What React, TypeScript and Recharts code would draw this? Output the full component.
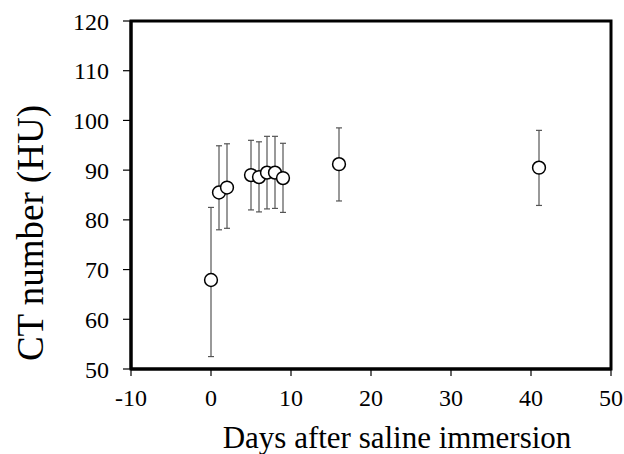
import React from 'react';
import {
  ScatterChart,
  Scatter,
  XAxis,
  YAxis,
  ErrorBar,
  ReferenceArea,
} from 'recharts';

// Values
const days = [0, 1, 2, 5, 6, 7, 8, 9, 16, 41];
const ctNumber = [67.9, 85.5, 86.5, 89.0, 88.6, 89.5, 89.5, 88.4, 91.2, 90.5];
const errLow = [15.4, 7.5, 8.2, 7.0, 7.0, 7.3, 7.2, 6.9, 7.4, 7.6];
const errHigh = [14.6, 9.4, 8.8, 7.0, 7.1, 7.3, 7.3, 7.0, 7.3, 7.5];

const xTicks = [-10, 0, 10, 20, 30, 40, 50];
const yTicks = [50, 60, 70, 80, 90, 100, 110, 120];

const data = days.map((d, i) => ({
  day: d,
  ct: ctNumber[i],
  err: [errLow[i], errHigh[i]],
}));

const FONT = '"Liberation Serif", "Times New Roman", serif';

const XTick = (props: any) => {
  const { x, y, payload } = props;
  return (
    <text x={x} y={y} dy="0.71em" textAnchor="middle" fontFamily={FONT} style={{ fontFamily: FONT }} fontSize={24} fill="#000">
      {payload.value}
    </text>
  );
};

const YTick = (props: any) => {
  const { x, y, payload } = props;
  return (
    <text x={x} y={y} dy="0.355em" textAnchor="end" fontFamily={FONT} style={{ fontFamily: FONT }} fontSize={24} fill="#000">
      {payload.value}
    </text>
  );
};

const XTitle = (props: any) => {
  const vb = props.viewBox;
  return (
    <text
      x={vb.x + vb.width / 2 + 26}
      y={vb.y + 79}
      textAnchor="middle"
      style={{ fontFamily: FONT }}
      fontSize={31}
      fill="#000"
    >
      Days after saline immersion
    </text>
  );
};

const YTitle = (props: any) => {
  const vb = props.viewBox;
  const cx = 43;
  const cy = vb.y + vb.height / 2 + 38;
  return (
    <text
      x={cx}
      y={cy}
      transform={`rotate(-90 ${cx} ${cy})`}
      textAnchor="middle"
      style={{ fontFamily: FONT }}
      fontSize={37}
      fill="#000"
    >
      CT number (HU)
    </text>
  );
};

// open circle marker, centred where the scatter scale puts the point
const Marker = (props: any) => (
  <circle cx={props.cx} cy={props.cy} r={6.4} fill="#fff" stroke="#000" strokeWidth={1.5} />
);

export default function App() {
  return (
    <div
      style={{
        position: 'absolute',
        left: 0,
        top: 0,
        width: 624,
        height: 454,
        background: '#fff',
      }}
    >
      <ScatterChart width={624} height={454} margin={{ top: 21, right: 13, bottom: 0, left: 0 }}>
        <XAxis
          type="number"
          dataKey="day"
          domain={[-10, 50]}
          ticks={xTicks}
          interval={0}
          height={85}
          tick={XTick}
          tickSize={7}
          tickMargin={13}
          axisLine={{ stroke: '#000', strokeWidth: 3 }}
          tickLine={{ stroke: '#000', strokeWidth: 1.2 }}
          label={{ content: XTitle }}
        />
        <YAxis
          type="number"
          dataKey="ct"
          domain={[50, 120]}
          ticks={yTicks}
          interval={0}
          width={131}
          tick={YTick}
          tickSize={8}
          tickMargin={14}
          axisLine={{ stroke: '#000', strokeWidth: 3 }}
          tickLine={{ stroke: '#000', strokeWidth: 1.2 }}
          label={{ content: YTitle }}
        />
        <ReferenceArea
          x1={-10}
          x2={50}
          y1={50}
          y2={120}
          fill="none"
          stroke="#000"
          strokeWidth={3}
          fillOpacity={0}
        />
        <Scatter data={data} shape={Marker} isAnimationActive={false}>
          <ErrorBar
            dataKey="err"
            direction="y"
            width={3}
            stroke="#555"
            strokeWidth={1.2}
            isAnimationActive={false}
          />
        </Scatter>
      </ScatterChart>
    </div>
  );
}
